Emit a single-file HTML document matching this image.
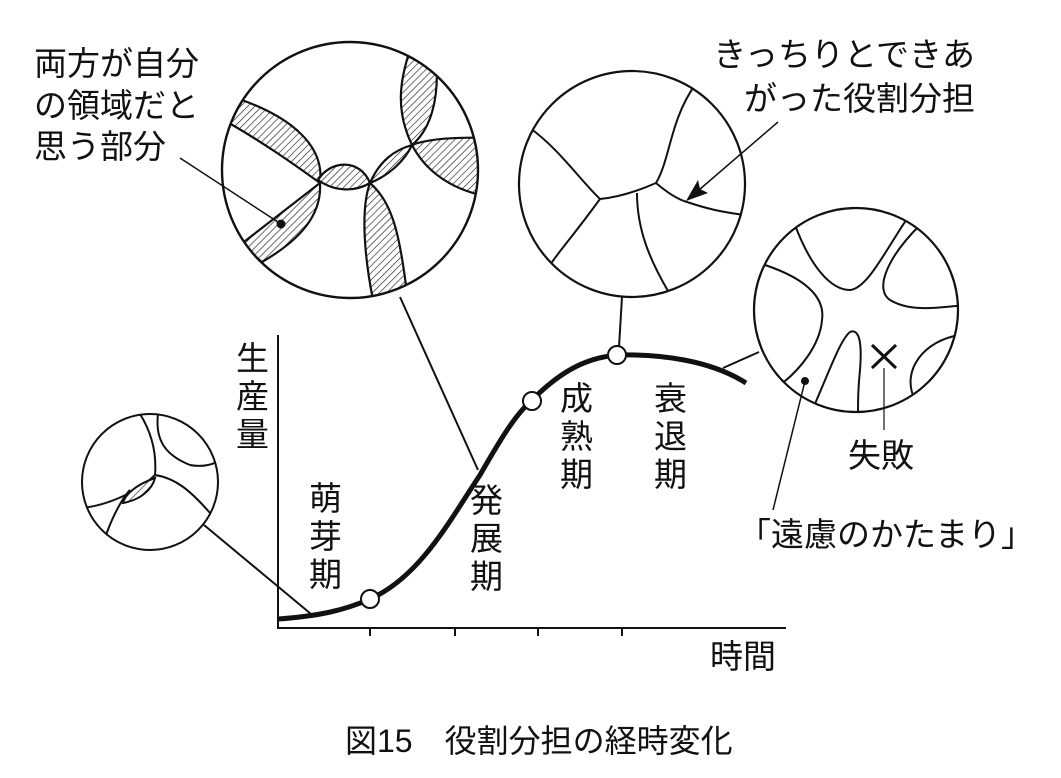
<!DOCTYPE html>
<html><head><meta charset="utf-8"><style>
html,body{margin:0;padding:0;background:#fff;}
svg{display:block}
text{font-family:"Liberation Sans","Noto Sans CJK JP",sans-serif;fill:#111;}
</style></head><body>
<svg width="1061" height="778" viewBox="0 0 1061 778" xmlns="http://www.w3.org/2000/svg">
<defs>
<pattern id="h" width="5" height="5" patternUnits="userSpaceOnUse" patternTransform="rotate(45)">
<rect width="5" height="5" fill="#fff"/><line x1="0" y1="0" x2="0" y2="5" stroke="#222" stroke-width="1.3"/>
</pattern>
<clipPath id="c1"><circle cx="350" cy="170" r="128"/></clipPath>
<clipPath id="c2"><circle cx="632" cy="184" r="113"/></clipPath>
<clipPath id="c3"><circle cx="856" cy="310" r="102"/></clipPath>
<clipPath id="c4"><circle cx="150" cy="482" r="68"/></clipPath>
</defs>
<g stroke="#111" fill="none" stroke-width="2">
<!-- circle 1 -->
<g clip-path="url(#c1)" stroke-width="2.2">
<path d="M230,96 C290,115 325,145 320,183 C295,165 260,140 220,118 Z" fill="url(#h)"/>
<path d="M318,180 C330,160 360,158 370,183 C355,192 335,192 318,180 Z" fill="url(#h)"/>
<path d="M320,183 L240,245 L262,262 C300,240 322,215 320,183 Z" fill="url(#h)"/>
<path d="M370,183 C360,210 365,260 373,300 L408,300 C400,240 395,205 370,183 Z" fill="url(#h)"/>
<path d="M370,183 C380,160 395,150 412,145 C405,160 390,175 370,183 Z" fill="url(#h)"/>
<path d="M412,145 C395,110 400,80 410,50 L436,56 C440,100 430,130 412,145 Z" fill="url(#h)"/>
<path d="M412,145 C430,138 460,137 490,138 L490,197 C450,190 425,170 412,145 Z" fill="url(#h)"/>
</g>
<circle cx="350" cy="170" r="128" stroke-width="2.4"/>
<line x1="180" y1="158" x2="281" y2="224" stroke-width="1.5"/>
<circle cx="281" cy="224" r="3.5" fill="#111"/>
<line x1="400" y1="297" x2="478" y2="470" stroke-width="2"/>
<!-- circle 2 -->
<g clip-path="url(#c2)">
<path d="M530,128 C560,150 580,180 600,199 C570,240 560,250 550,265"/>
<path d="M600,199 C620,197 640,190 656,183 C670,160 670,120 695,85"/>
<path d="M656,183 C670,195 680,200 687,202 C705,208 720,212 745,215"/>
<path d="M637,193 C637,230 650,260 668,291"/>
</g>
<circle cx="632" cy="184" r="113" stroke-width="2.2"/>
<line x1="778" y1="122" x2="692" y2="196" stroke-width="1.5"/>
<path d="M686,201 L708,193 L700,189 L698,180 Z" fill="#111" stroke="none"/>
<line x1="622" y1="297" x2="619" y2="347"/>
<!-- circle 3 -->
<g clip-path="url(#c3)">
<path d="M795,225 C810,265 830,290 850,290 C870,288 890,240 920,200"/>
<path d="M765,265 C810,280 825,300 822,320 C820,345 800,370 780,385"/>
<path d="M920,225 C885,260 875,290 890,300 C910,312 935,308 965,305"/>
<path d="M808,420 C830,370 840,340 850,332 C860,328 862,345 860,370 C858,390 858,400 858,420"/>
<path d="M960,335 C925,340 900,370 915,400"/>
</g>
<circle cx="856" cy="310" r="102" stroke-width="2.2"/>
<line x1="759" y1="352" x2="723" y2="368"/>
<line x1="872" y1="345" x2="896" y2="368" stroke-width="3"/>
<line x1="896" y1="345" x2="872" y2="368" stroke-width="3"/>
<line x1="884" y1="368" x2="884" y2="430" stroke-width="1.2"/>
<circle cx="805" cy="381" r="3" fill="#111"/>
<line x1="805" y1="381" x2="773" y2="510" stroke-width="1.5"/>
<!-- circle 4 -->
<g clip-path="url(#c4)">
<path d="M140,414 C150,430 157,450 155,475 C140,490 110,505 82,508"/>
<path d="M158,414 C155,440 165,455 190,465 C205,468 215,463 222,460"/>
<path d="M155,475 C175,478 190,490 210,513"/>
<path d="M106,535 C115,510 125,495 130,490"/>
<path d="M155,478 C135,485 125,495 123,503 C140,500 152,490 155,478 Z" fill="url(#h)"/>
</g>
<circle cx="150" cy="482" r="68" stroke-width="2"/>
<line x1="204" y1="525" x2="311" y2="614"/>
<!-- axes -->
<line x1="278" y1="335" x2="278" y2="629" stroke-width="2"/>
<line x1="277" y1="628" x2="786" y2="628" stroke-width="2"/>
<line x1="370" y1="628" x2="370" y2="636"/>
<line x1="455" y1="628" x2="455" y2="636"/>
<line x1="538" y1="628" x2="538" y2="636"/>
<line x1="622" y1="628" x2="622" y2="636"/>
<!-- curve -->
<path d="M278,619 C320,616 345,610 370,599 C420,577 450,520 480,475 C500,440 515,415 532,400 C560,372 585,358 617,355 C660,354 710,360 746,383" stroke-width="5"/>
<circle cx="370" cy="599" r="9" fill="#fff"/>
<circle cx="532" cy="401" r="9" fill="#fff"/>
<circle cx="617" cy="355" r="9" fill="#fff"/>
</g>
<g font-size="33">
<text x="34" y="75">両方が自分</text>
<text x="34" y="117">の領域だと</text>
<text x="34" y="158">思う部分</text>
<text x="975" y="66" text-anchor="end">きっちりとできあ</text>
<text x="975" y="110" text-anchor="end">がった役割分担</text>
<text x="236" y="370">生</text><text x="236" y="408">産</text><text x="236" y="446">量</text>
<text x="309" y="510">萌</text><text x="309" y="548">芽</text><text x="309" y="586">期</text>
<text x="470" y="512">発</text><text x="470" y="550">展</text><text x="470" y="588">期</text>
<text x="560" y="410">成</text><text x="560" y="448">熟</text><text x="560" y="486">期</text>
<text x="654" y="410">衰</text><text x="654" y="448">退</text><text x="654" y="486">期</text>
<text x="848" y="467">失敗</text>
<text x="738" y="546">「遠慮のかたまり」</text>
<text x="710" y="668">時間</text>
<text x="345" y="752" font-size="32">図15　役割分担の経時変化</text>
</g>
</svg>
</body></html>
